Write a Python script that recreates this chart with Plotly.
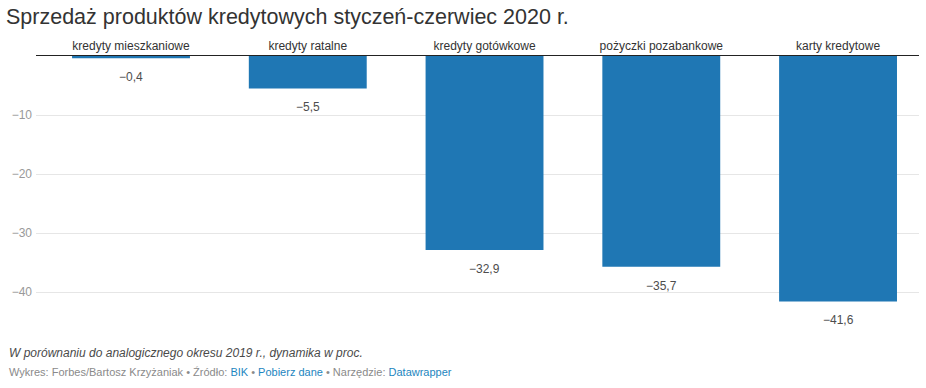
import plotly.graph_objects as go

categories = ["kredyty mieszkaniowe", "kredyty ratalne", "kredyty gotówkowe",
              "pożyczki pozabankowe", "karty kredytowe"]
values = [-0.4, -5.5, -32.9, -35.7, -41.6]
tick_vals = [-10, -20, -30, -40]
tick_text = ["−10", "−20", "−30", "−40"]

labels = [f"{v:.1f}".replace("-", "−").replace(".", ",") for v in values]

W, H = 926, 388
L, R, T, B = 36, 7, 56, 61
PW, PH = W - L - R, H - T - B
FONT = "Liberation Sans, Arial, sans-serif"

fig = go.Figure(go.Bar(
    x=list(range(len(categories))), y=values,
    marker=dict(color="#1f77b4", line=dict(width=0)),
    hoverinfo="skip",
))

value_ann = [
    dict(x=i, y=v, xref="x", yref="y", text=t, showarrow=False,
         yanchor="middle", yshift=-19,
         font=dict(size=12, color="#4d4d4d"))
    for i, (v, t) in enumerate(zip(values, labels))
]

fig.update_layout(
    width=W, height=H,
    margin=dict(l=L, r=R, t=T, b=B, autoexpand=False),
    paper_bgcolor="white", plot_bgcolor="white",
    bargap=0.333,
    showlegend=False,
    font=dict(family=FONT),
    xaxis=dict(
        side="top", range=[-0.5375, 4.458],
        tickvals=list(range(len(categories))), ticktext=categories,
        tickfont=dict(size=12, color="#333333"),
        showgrid=False, zeroline=False, automargin=False,
        showline=True, linecolor="#222222", linewidth=1,
        ticks="", fixedrange=True,
    ),
    yaxis=dict(
        range=[-PH / 5.9, 0], tickvals=tick_vals, ticktext=tick_text,
        tickfont=dict(size=12, color="#999999"), ticklabelstandoff=3,
        showgrid=True, gridcolor="#e6e6e6", gridwidth=1, automargin=False,
        zeroline=False, showline=False, ticks="", fixedrange=True,
    ),
    annotations=value_ann + [
        dict(text="Sprzedaż produktów kredytowych styczeń-czerwiec 2020 r.",
             xref="paper", yref="paper", x=(4 - L) / PW, y=1 + (T - 17) / PH,
             xanchor="left", yanchor="middle",
             showarrow=False, font=dict(size=21.5, color="#333333")),
        dict(text="<i>W porównaniu do analogicznego okresu 2019 r., dynamika w proc.</i>",
             xref="paper", yref="paper", x=(7 - L) / PW, y=-(353 - (T + PH)) / PH,
             xanchor="left", yanchor="middle",
             showarrow=False, font=dict(size=12, color="#4a4a4a")),
        dict(text="Wykres: Forbes/Bartosz Krzyżaniak • Źródło: <span style='color:#1d86c0'>BIK</span> • "
                  "<span style='color:#1d86c0'>Pobierz dane</span> • Narzędzie: "
                  "<span style='color:#1d86c0'>Datawrapper</span>",
             xref="paper", yref="paper", x=(7 - L) / PW, y=-(372 - (T + PH)) / PH,
             xanchor="left", yanchor="middle",
             showarrow=False, font=dict(size=11, color="#8a8a8a")),
    ],
)

fig.write_html("out.html", config={"displayModeBar": False},
               post_script="document.body.style.margin='0';")
